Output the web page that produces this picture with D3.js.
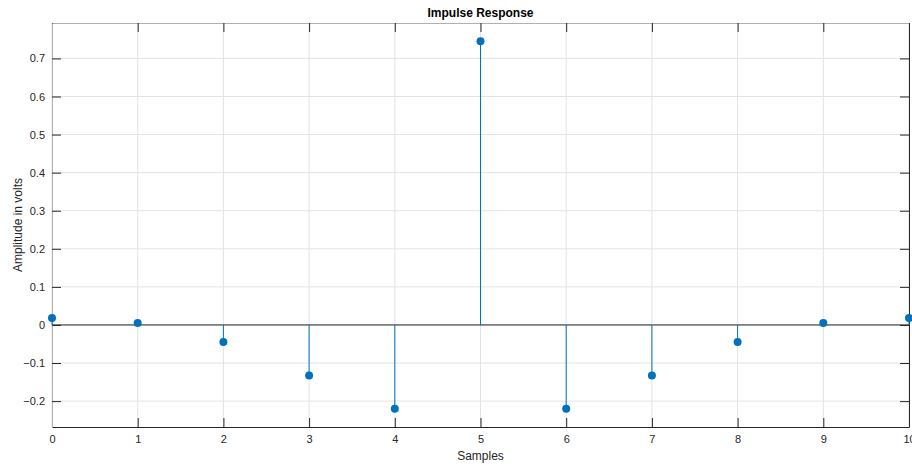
<!DOCTYPE html>
<html>
<head>
<meta charset="utf-8">
<script src="https://cdn.jsdelivr.net/npm/d3@7"></script>
<style>
  body { margin: 0; background: #fff; }
  text { font-family: "Liberation Sans", Arial, sans-serif; }
</style>
</head>
<body>
<div id="chart"></div>
<script>
// data
const samples = [0, 1, 2, 3, 4, 5, 6, 7, 8, 9, 10];
const amplitude = [0.018, 0.005, -0.045, -0.133, -0.22, 0.745, -0.22, -0.133, -0.045, 0.005, 0.018];
const xTicks = [0, 1, 2, 3, 4, 5, 6, 7, 8, 9, 10];
const yTicks = [-0.2, -0.1, 0, 0.1, 0.2, 0.3, 0.4, 0.5, 0.6, 0.7];

let margin = {top: 23, right: 3, bottom: 38, left: 52},
    width = 912 - margin.left - margin.right,
    height = 465 - margin.top - margin.bottom;

let svg = d3.select("#chart")
    .append("svg")
    .attr("width", 912)
    .attr("height", 465)
    .append("g")
    .attr("transform", `translate(${margin.left}, ${margin.top})`);

const x = d3.scaleLinear().domain([0, 10]).range([0, width]);
const y = d3.scaleLinear().domain([-0.268, 0.793]).range([height, 0]);

// grid
svg.append("g")
    .selectAll("line")
    .data(xTicks)
    .join("line")
    .attr("x1", d => x(d)).attr("x2", d => x(d))
    .attr("y1", 0).attr("y2", height)
    .attr("stroke", "#e3e3e3");
svg.append("g")
    .selectAll("line")
    .data(yTicks)
    .join("line")
    .attr("x1", 0).attr("x2", width)
    .attr("y1", d => y(d)).attr("y2", d => y(d))
    .attr("stroke", "#e3e3e3");

// axes with inward ticks (padding counts from the axis line since ticks point in)
const tick = 9;
svg.append("g")
    .attr("transform", `translate(0, ${height})`)
    .call(d3.axisBottom(x).tickValues(xTicks).tickSize(-tick).tickPadding(8).tickSizeOuter(0))
    .call(g => g.select(".domain").attr("stroke", "#262626"));
svg.append("g")
    .call(d3.axisTop(x).tickValues(xTicks).tickSize(-tick).tickFormat("").tickSizeOuter(0))
    .call(g => g.select(".domain").attr("stroke", "#b0b0b0"));
svg.append("g")
    .call(d3.axisLeft(y).tickValues(yTicks).tickSize(-tick).tickPadding(7).tickSizeOuter(0)
        .tickFormat(d => d === 0 ? "0" : d3.format(".1f")(d)))
    .call(g => g.select(".domain").attr("stroke", "#b0b0b0"));
svg.append("g")
    .attr("transform", `translate(${width}, 0)`)
    .call(d3.axisRight(y).tickValues(yTicks).tickSize(-tick).tickFormat("").tickSizeOuter(0))
    .call(g => g.select(".domain").attr("stroke", "#262626"));

svg.selectAll(".tick line").attr("stroke", "#262626");
svg.selectAll(".tick text").attr("fill", "#262626").attr("font-size", 11)
    .attr("font-family", "Liberation Sans, Arial, sans-serif");

// baseline
svg.append("line")
    .attr("x1", 0).attr("x2", width)
    .attr("y1", y(0)).attr("y2", y(0))
    .attr("stroke", "#262626");

// stems
svg.append("g")
    .selectAll("line")
    .data(samples)
    .join("line")
    .attr("x1", d => x(d)).attr("x2", d => x(d))
    .attr("y1", y(0)).attr("y2", (d, i) => y(amplitude[i]))
    .attr("stroke", "#0072BD")
    .attr("stroke-width", 1);

svg.append("g")
    .selectAll("circle")
    .data(samples)
    .join("circle")
    .attr("cx", d => x(d))
    .attr("cy", (d, i) => y(amplitude[i]))
    .attr("r", 4)
    .attr("fill", "#0072BD");

// labels
svg.append("text")
    .attr("x", width / 2).attr("y", -6)
    .attr("text-anchor", "middle")
    .attr("font-size", 12).attr("font-weight", "bold")
    .attr("fill", "#000")
    .text("Impulse Response");

svg.append("text")
    .attr("x", width / 2).attr("y", height + 33)
    .attr("text-anchor", "middle")
    .attr("font-size", 12).attr("fill", "#262626")
    .text("Samples");

svg.append("text")
    .attr("transform", `translate(${-30}, ${height / 2}) rotate(-90)`)
    .attr("text-anchor", "middle")
    .attr("font-size", 12).attr("fill", "#262626")
    .text("Amplitude in volts");
</script>
</body>
</html>
